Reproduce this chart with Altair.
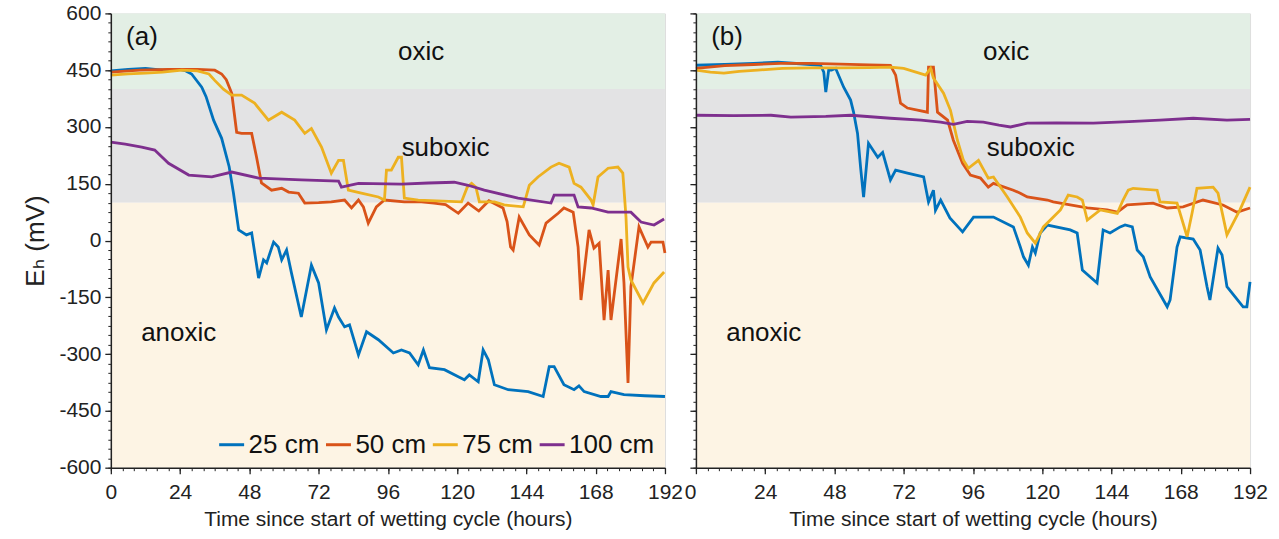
import altair as alt
import pandas as pd

# ---------------- data ----------------
depths = ["25 cm", "50 cm", "75 cm", "100 cm"]
line_colors = ["#0072BD", "#D95319", "#EDB120", "#7E2F8E"]

# Panel (a)
a25_t = [0, 6, 12, 18, 24, 26, 28, 31.5, 33, 35.6, 38.4, 41, 42.5, 44.3, 47, 48.8, 51.2, 52.9, 54, 56.4, 58, 59.2, 60.9, 62.6, 66, 69.5, 72, 74.7, 77.5, 78.9, 81, 82.7, 85.8, 88.6, 92.7, 97.9, 100.7, 103.5, 106.5, 108.3, 110.4, 115.6, 120.4, 122.5, 124.2, 127.3, 129, 130.8, 132.9, 137.7, 144.6, 149.8, 151.9, 153.6, 157, 160.5, 162.2, 164, 169.8, 172.3, 173.3, 177.8, 185, 192]
a25_v = [448, 452, 455, 450, 452, 448, 440, 405, 380, 318, 270, 195, 125, 28, 15, 20, -99, -51, -59, -4, -17, -51, -25, -86, -202, -65, -112, -236, -178, -202, -228, -223, -302, -241, -262, -297, -289, -297, -328, -289, -336, -341, -360, -368, -355, -373, -289, -315, -381, -394, -399, -412, -333, -333, -381, -394, -384, -399, -412, -412, -399, -407, -410, -412]

a50_t = [0, 10, 20, 30, 36, 38.4, 40, 41.9, 43.6, 45.3, 48.8, 50.5, 52.2, 55.7, 59.2, 61.6, 65, 67.2, 72, 76.4, 81, 83.4, 85.8, 87.5, 89.2, 92, 94.8, 101.7, 107.6, 112, 116, 120.4, 123.8, 127.5, 131, 135.9, 137.3, 138.5, 139.4, 141.5, 145, 148.4, 150.8, 155, 157, 160.2, 161.9, 162.9, 165.7, 167.4, 169.2, 170.9, 172.3, 173.3, 176.8, 177.8, 179.2, 180.2, 183, 186.1, 187.2, 191.3, 192]
a50_v = [445, 450, 452, 452, 450, 440, 425, 389, 286, 283, 283, 220, 152, 133, 138, 128, 125, 99, 100, 102, 107, 86, 107, 89, 46, 89, 107, 102, 102, 99, 95, 72, 99, 78, 105, 86, 50, -17, -25, 62, 15, -12, 46, 72, 86, 75, -17, -157, 28, -20, -7, -210, -78, -210, 4, -112, -376, -122, 36, -17, -4, -4, -33]

a75_t = [0, 6, 12, 18, 24.6, 30, 34, 36, 39, 41.9, 45.3, 49.8, 54.6, 59.2, 63.7, 67.2, 69.5, 73, 76.4, 78.9, 80.6, 82.3, 86.8, 92.7, 94.8, 95.5, 97.2, 99.6, 100.7, 101.7, 106.5, 121.5, 123.5, 125, 126.5, 127.7, 132.9, 136.3, 142.9, 145, 148, 152.5, 155.3, 158.8, 160.5, 162.9, 166.4, 167.1, 168.8, 172.3, 175.7, 177.4, 178.5, 179.2, 180.2, 184.4, 188.2, 191.7]
a75_v = [437, 440, 442, 445, 450, 448, 440, 423, 400, 384, 384, 363, 318, 339, 318, 283, 296, 247, 178, 212, 212, 133, 125, 115, 107, 186, 186, 220, 220, 112, 107, 102, 141, 151, 141, 102, 102, 94, 89, 146, 168, 194, 204, 194, 151, 141, 107, 94, 168, 191, 194, 178, 62, -70, -104, -165, -112, -83]

a100_t = [0, 5, 10.7, 15.2, 20, 27, 35, 41.9, 51.2, 66, 78.9, 79.9, 85.8, 100.7, 110, 119, 123.8, 129.4, 141.1, 152.5, 153.6, 160.5, 161.9, 166.4, 172.3, 180.2, 183.7, 188.2, 191.7]
a100_v = [260, 255, 247, 239, 204, 173, 168, 181, 165, 160, 157, 141, 151, 149, 152, 154, 146, 133, 112, 99, 120, 120, 89, 86, 75, 75, 49, 41, 57]

# Panel (b)
b25_t = [0, 10, 20, 28.4, 36, 43.2, 44.3, 45, 46, 47, 48.4, 51.2, 53.6, 54.6, 56, 57.1, 58.1, 59.8, 63, 64.7, 67.4, 69.2, 73.3, 78.9, 80.6, 82.3, 83, 84.8, 88, 92.4, 96.2, 103.1, 110, 112.4, 113.5, 115.2, 116.6, 117.6, 119.3, 121.8, 129.7, 132.1, 133.9, 139, 141.1, 143.5, 147, 148.7, 151.2, 152.9, 155, 157.4, 163.3, 164.3, 166.7, 167.8, 172.3, 174.7, 177.1, 178.1, 180.9, 182.3, 184, 189.6, 190.9, 192]
b25_v = [463, 465, 468, 471, 467, 463, 445, 392, 450, 450, 455, 405, 371, 340, 283, 190, 115, 257, 220, 233, 160, 186, 178, 168, 102, 133, 80, 107, 60, 23, 62, 62, 36, -17, -43, -65, -17, -33, 20, 41, 28, 20, -78, -112, 28, 20, 36, 41, 36, -25, -43, -96, -175, -157, -17, 10, 4, -25, -122, -157, -20, -38, -122, -175, -175, -109]

b50_t = [0, 10, 20, 29.4, 40, 50, 60, 67.4, 69.2, 70.9, 73.3, 80.2, 80.6, 82.3, 83.7, 87.2, 89.2, 92.4, 95.1, 98.6, 101.3, 103.1, 110, 112.4, 114.8, 121.8, 123.8, 135.6, 142.5, 146, 149.4, 158.4, 163.3, 168.8, 175.7, 182.6, 187.5, 192]
b50_v = [455, 462, 465, 468, 468, 466, 464, 463, 437, 363, 350, 339, 458, 458, 339, 318, 265, 204, 173, 165, 141, 151, 133, 125, 115, 107, 102, 86, 81, 75, 94, 99, 86, 89, 107, 94, 75, 86]

b75_t = [0, 5, 9.7, 15, 21.4, 30, 40, 50, 60, 67.4, 72, 79.6, 81.3, 82.3, 85.8, 88.2, 90.6, 92.7, 94.4, 97.9, 101.3, 103.1, 107.9, 112.4, 114.8, 117.6, 120.4, 126.3, 129, 132.1, 133.9, 135.6, 140.1, 146, 148, 149.8, 151.5, 159.8, 160.8, 166.7, 170.2, 171.9, 173.6, 179.2, 180.9, 184, 188.5, 192]
b75_v = [450, 445, 442, 447, 450, 455, 456, 456, 457, 458, 455, 437, 455, 429, 389, 344, 265, 212, 191, 212, 165, 168, 115, 62, 20, -7, 36, 81, 120, 115, 107, 54, 81, 72, 107, 133, 138, 133, 102, 99, 10, 72, 138, 141, 125, 15, 81, 141]

b100_t = [0, 13, 26, 32.9, 45, 53.6, 67.4, 78, 84.8, 89.2, 94, 99.6, 105, 109, 114.8, 125, 137.7, 150, 160.8, 172.3, 184, 192]
b100_v = [331, 330, 331, 326, 328, 331, 323, 318, 313, 307, 315, 313, 305, 300, 310, 311, 310, 314, 318, 323, 318, 320]

# Redox zones
zones = ["oxic", "suboxic", "anoxic"]
zone_lo = [400, 100, -600]
zone_hi = [600, 400, 100]
zone_fill = ["#e3efe5", "#e3e3e4", "#fdf4e4"]
zone_label_t = [107.5, 116, 23.5]
zone_label_v = [497, 244, -244]

x_major = [0, 24, 48, 72, 96, 120, 144, 168, 192]
x_minor = list(range(0, 193, 4))
y_major = [-600, -450, -300, -150, 0, 150, 300, 450, 600]
y_minor = list(range(-600, 601, 25))

FONT = "Liberation Sans"
INK = "#222222"

series_a = [(a25_t, a25_v), (a50_t, a50_v), (a75_t, a75_v), (a100_t, a100_v)]
series_b = [(b25_t, b25_v), (b50_t, b50_v), (b75_t, b75_v), (b100_t, b100_v)]


def build_df(series):
    rows = []
    for d, (ts, vs) in zip(depths, series):
        for t, v in zip(ts, vs):
            rows.append({"t": t, "eh": v, "depth": d})
    return pd.DataFrame(rows)


zdf = pd.DataFrame({
    "zone": zones, "lo": zone_lo, "hi": zone_hi,
    "x0": [x_major[0]] * 3, "x1": [x_major[-1]] * 3,
    "lt": zone_label_t, "lv": zone_label_v,
})


def panel(tag, series, first):
    xs = alt.Scale(domain=[0, 192], nice=False, zero=False)
    ys = alt.Scale(domain=[-600, 600], nice=False, zero=False)

    minor_x = alt.Axis(values=x_minor, labels=False, domain=False, ticks=True, tickSize=3,
                       tickColor=INK, tickWidth=1, grid=False, title=None, orient="bottom", zindex=1)
    minor_y = alt.Axis(values=y_minor, labels=False, domain=False, ticks=True, tickSize=3,
                       tickColor=INK, tickWidth=1, grid=False, title=None, orient="left", zindex=1)

    bg = alt.Chart(zdf).mark_rect().encode(
        x=alt.X("x0:Q", scale=xs, axis=minor_x), x2="x1:Q",
        y=alt.Y("lo:Q", scale=ys, axis=minor_y), y2="hi:Q",
        fill=alt.Fill("zone:N", scale=alt.Scale(domain=zones, range=zone_fill), legend=None),
    )

    x_axis_kw = dict(values=x_major, title="Time since start of wetting cycle (hours)",
                     labelFontSize=21, titleFontSize=21, labelFont=FONT, titleFont=FONT,
                     labelColor=INK, titleColor=INK, titleFontWeight="normal",
                     domainColor=INK, domainWidth=1.5, tickColor=INK, tickWidth=1.3, tickSize=6,
                     labelPadding=8, titlePadding=6, grid=False, orient="bottom", zindex=1,
                     labelFlush=False)
    if not first:
        x_axis_kw["labelAlign"] = {"condition": {"test": "datum.value == 0", "value": "right"},
                                   "value": "center"}
    x_axis = alt.Axis(**x_axis_kw)

    if first:
        y_axis = alt.Axis(values=y_major, title="Eₕ (mV)", labelFontSize=21, titleFontSize=26,
                          labelExpr="'' + datum.value",
                          labelFont=FONT, titleFont="Liberation Sans, DejaVu Sans",
                          labelColor=INK, titleColor=INK, titleFontWeight="normal",
                          domainColor=INK, domainWidth=1.5, tickColor=INK, tickWidth=1.3, tickSize=6,
                          labelPadding=4, titlePadding=10, grid=False, orient="left", zindex=1)
        legend = alt.Legend(orient="bottom-right", direction="horizontal", title=None,
                            labelFontSize=26, labelFont=FONT, labelColor="#111111",
                            symbolType="stroke", symbolSize=625, symbolStrokeWidth=3,
                            labelOffset=3, columnPadding=0, offset=10, padding=0)
    else:
        y_axis = alt.Axis(values=y_major, labels=False, title=None,
                          domainColor=INK, domainWidth=1.5, tickColor=INK, tickWidth=1.3, tickSize=6,
                          grid=False, orient="left", zindex=1)
        legend = None

    lines = alt.Chart(build_df(series)).mark_line(strokeWidth=2.8).encode(
        x=alt.X("t:Q", scale=xs, axis=x_axis),
        y=alt.Y("eh:Q", scale=ys, axis=y_axis),
        color=alt.Color("depth:N", scale=alt.Scale(domain=depths, range=line_colors),
                        legend=legend, sort=depths),
    )

    zone_text = alt.Chart(zdf).mark_text(fontSize=26, font=FONT, color="#111111",
                                         align="center", baseline="middle").encode(
        x=alt.X("lt:Q", scale=xs, axis=None),
        y=alt.Y("lv:Q", scale=ys, axis=None),
        text="zone:N",
    )

    tag_df = pd.DataFrame({"label": [tag], "t": [5.3], "v": [537]})
    tag_text = alt.Chart(tag_df).mark_text(fontSize=26, font=FONT, color="#111111",
                                           align="left", baseline="middle").encode(
        x=alt.X("t:Q", scale=xs, axis=None),
        y=alt.Y("v:Q", scale=ys, axis=None),
        text="label:N",
    )

    return alt.layer(bg, lines, zone_text, tag_text).resolve_axis(
        x="independent", y="independent"
    ).properties(width=555, height=455)


pa = panel("(a)", series_a, True)
pb = panel("(b)", series_b, False)

chart = alt.hconcat(pa, pb, spacing=31, bounds="flush").resolve_legend(
    color="independent"
).properties(
    padding={"left": 22, "top": 1, "right": 10, "bottom": 5},
).configure_view(stroke=None).configure(font=FONT)

chart.save("out.html", embed_options={"renderer": "svg", "actions": False})
